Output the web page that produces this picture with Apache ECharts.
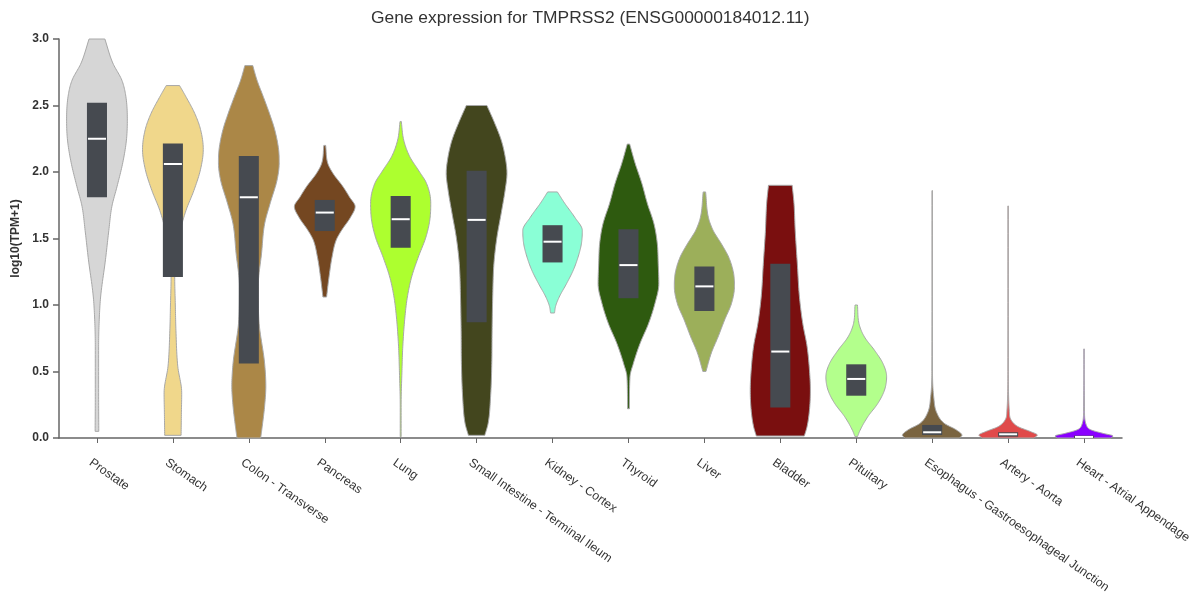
<!DOCTYPE html>
<html>
<head>
<meta charset="utf-8">
<script src="https://cdn.jsdelivr.net/npm/echarts@6/dist/echarts.min.js"></script>
<style>
  html, body { margin: 0; padding: 0; background: #ffffff; }
  #chart { width: 1194px; height: 592px; }
</style>
</head>
<body>
<div id="chart"></div>
<script>
// ---- Data ----
const titleText = 'Gene expression for TMPRSS2 (ENSG00000184012.11)';
const yAxisName = 'log10(TPM+1)';

const categories = [
  'Prostate', 'Stomach', 'Colon - Transverse', 'Pancreas', 'Lung',
  'Small Intestine - Terminal Ileum', 'Kidney - Cortex', 'Thyroid', 'Liver',
  'Bladder', 'Pituitary', 'Esophagus - Gastroesophageal Junction',
  'Artery - Aorta', 'Heart - Atrial Appendage'
];

// box plot statistics (log10(TPM+1))
const q1Values     = [1.81, 1.21, 0.56, 1.556, 1.43, 0.87, 1.32, 1.05, 0.955, 0.23, 0.318, 0.023, 0.010, 0.000];
const medianValues = [2.25, 2.06, 1.81, 1.695, 1.645, 1.64, 1.476, 1.30, 1.14, 0.65, 0.444, 0.043, 0.028, 0.008];
const q3Values     = [2.52, 2.215, 2.12, 1.79, 1.82, 2.01, 1.60, 1.57, 1.29, 1.31, 0.554, 0.098, 0.043, 0.018];

// violin density profiles: [value, density relative to the violin's maximum], top to bottom
const prostateDensity = [[3.0,0.26],[2.82,0.52],[2.69,0.82],[2.57,0.95],[2.39,1.0],[2.24,0.97],[2.07,0.85],[1.89,0.66],[1.74,0.49],[1.56,0.39],[1.34,0.28],[1.06,0.12],[0.86,0.07],[0.69,0.055],[0.31,0.055],[0.05,0.06]];
const stomachDensity = [[2.65,0.22],[2.57,0.42],[2.44,0.72],[2.32,0.91],[2.17,1.0],[2.02,0.91],[1.86,0.69],[1.71,0.43],[1.56,0.25],[1.31,0.12],[1.21,0.06],[1.0,0.08],[0.81,0.1],[0.54,0.16],[0.34,0.29],[0.19,0.28],[0.02,0.27]];
const colonDensity = [[2.80,0.13],[2.69,0.27],[2.57,0.47],[2.44,0.68],[2.32,0.85],[2.17,0.98],[2.07,1.0],[1.94,0.93],[1.77,0.71],[1.61,0.52],[1.39,0.42],[1.14,0.31],[0.89,0.33],[0.56,0.52],[0.39,0.56],[0.24,0.52],[0.085,0.44],[0.0,0.39]];
const pancreasDensity = [[2.2,0.03],[2.065,0.1],[1.99,0.27],[1.89,0.6],[1.81,0.82],[1.74,1.0],[1.66,0.85],[1.56,0.55],[1.49,0.38],[1.36,0.24],[1.21,0.14],[1.06,0.06]];
const lungDensity = [[2.38,0.02],[2.24,0.1],[2.115,0.3],[2.015,0.58],[1.915,0.85],[1.765,0.99],[1.64,0.96],[1.51,0.83],[1.36,0.58],[1.21,0.36],[1.06,0.22],[0.91,0.14],[0.69,0.07],[0.49,0.04],[0.25,0.015],[0.01,0.015]];
const smallIntestineDensity = [[2.5,0.34],[2.37,0.59],[2.24,0.81],[2.115,0.94],[1.99,1.0],[1.865,0.94],[1.69,0.81],[1.51,0.67],[1.31,0.57],[1.06,0.53],[0.81,0.51],[0.56,0.5],[0.31,0.46],[0.11,0.38],[0.02,0.27]];
const kidneyDensity = [[1.85,0.16],[1.765,0.4],[1.66,0.73],[1.56,0.98],[1.46,0.95],[1.36,0.84],[1.26,0.68],[1.16,0.46],[1.06,0.22],[0.99,0.1],[0.94,0.065]];
const thyroidDensity = [[2.21,0.04],[2.065,0.22],[1.915,0.44],[1.765,0.62],[1.61,0.84],[1.46,0.95],[1.31,0.98],[1.16,1.0],[1.01,0.87],[0.86,0.66],[0.71,0.38],[0.56,0.16],[0.46,0.05],[0.22,0.03]];
const liverDensity = [[1.85,0.04],[1.66,0.13],[1.56,0.29],[1.46,0.56],[1.36,0.8],[1.24,0.96],[1.14,0.99],[1.01,0.89],[0.89,0.67],[0.76,0.45],[0.64,0.23],[0.5,0.05]];
const bladderDensity = [[1.9,0.39],[1.765,0.45],[1.56,0.49],[1.31,0.56],[1.06,0.63],[0.86,0.74],[0.69,0.88],[0.51,0.96],[0.36,0.99],[0.21,0.96],[0.085,0.88],[0.015,0.79]];
const pituitaryDensity = [[1.0,0.04],[0.86,0.09],[0.76,0.27],[0.66,0.6],[0.56,0.88],[0.46,1.0],[0.36,0.93],[0.26,0.71],[0.16,0.38],[0.06,0.13],[0.01,0.04]];
const esophagusDensity = [[1.86,0.005],[0.5,0.01],[0.31,0.05],[0.19,0.15],[0.11,0.4],[0.06,0.8],[0.02,0.98],[0.0,0.89]];
const arteryDensity = [[1.745,0.005],[0.5,0.008],[0.2,0.04],[0.135,0.1],[0.085,0.33],[0.047,0.75],[0.022,0.96],[0.0,0.85]];
const heartDensity = [[0.67,0.005],[0.2,0.015],[0.085,0.1],[0.06,0.24],[0.035,0.62],[0.015,0.95],[0.0,0.88]];

const densities = [
  prostateDensity, stomachDensity, colonDensity, pancreasDensity, lungDensity,
  smallIntestineDensity, kidneyDensity, thyroidDensity, liverDensity,
  bladderDensity, pituitaryDensity, esophagusDensity, arteryDensity, heartDensity
];

const violinColors = [
  '#d6d6d6', '#f0d78b', '#ab8747', '#744721', '#adff2f',
  '#43461e', '#8affd6', '#2e5a0f', '#9caf5a',
  '#7a0f0f', '#b3ff8c', '#7a6440', '#e04a4a', '#8a00ff'
];

const yTicks = { min: 0, max: 3, interval: 0.5 };

// ---- Rendering helpers ----
function monotoneSample(xs, hs, steps) {
  const n = xs.length;
  if (n < 2) return xs.map((x, i) => [x, hs[i]]);
  const d = [];
  for (let k = 0; k < n - 1; k++) {
    const dx = xs[k + 1] - xs[k];
    d.push(dx === 0 ? 0 : (hs[k + 1] - hs[k]) / dx);
  }
  const m = new Array(n);
  m[0] = d[0]; m[n - 1] = d[n - 2];
  for (let k = 1; k < n - 1; k++) {
    m[k] = (d[k - 1] * d[k] <= 0) ? 0 : (d[k - 1] + d[k]) / 2;
  }
  for (let k = 0; k < n - 1; k++) {
    if (d[k] === 0) { m[k] = 0; m[k + 1] = 0; continue; }
    const a = m[k] / d[k], b = m[k + 1] / d[k];
    const s = a * a + b * b;
    if (s > 9) {
      const t = 3 / Math.sqrt(s);
      m[k] = t * a * d[k]; m[k + 1] = t * b * d[k];
    }
  }
  const out = [];
  for (let k = 0; k < n - 1; k++) {
    const x0 = xs[k], x1 = xs[k + 1], h0 = hs[k], h1 = hs[k + 1];
    const dx = x1 - x0;
    for (let s = 0; s < steps; s++) {
      const t = s / steps;
      const t2 = t * t, t3 = t2 * t;
      const h = (2 * t3 - 3 * t2 + 1) * h0 + (t3 - 2 * t2 + t) * dx * m[k] +
                (-2 * t3 + 3 * t2) * h1 + (t3 - t2) * dx * m[k + 1];
      out.push([x0 + t * dx, Math.max(h, 0.2)]);
    }
  }
  out.push([xs[n - 1], Math.max(hs[n - 1], 0.2)]);
  return out;
}

function renderViolin(params, api) {
  const i = api.value(0);
  const q1 = api.value(1), med = api.value(2), q3 = api.value(3);
  const center = api.coord([i, 0])[0];
  const band = api.size([1, 0])[0];
  const maxHalf = band * 0.40;
  const boxHalf = band * 0.132;
  const prof = densities[i];
  const ys = prof.map(p => api.coord([i, p[0]])[1]);
  const hs = prof.map(p => p[1] * maxHalf);
  const samples = monotoneSample(ys, hs, 12);
  const right = samples.map(s => [center + s[1], s[0]]);
  const left = samples.slice().reverse().map(s => [center - s[1], s[0]]);
  const yQ1 = api.coord([i, q1])[1];
  const yQ3 = api.coord([i, q3])[1];
  const yMed = api.coord([i, med])[1];
  return {
    type: 'group',
    children: [
      {
        type: 'polygon',
        shape: { points: right.concat(left) },
        style: { fill: violinColors[i], stroke: '#a8a8a8', lineWidth: 1 }
      },
      {
        type: 'rect',
        shape: { x: center - boxHalf, y: yQ3, width: boxHalf * 2, height: Math.max(yQ1 - yQ3, 1) },
        style: { fill: '#464a50' }
      },
      {
        type: 'line',
        shape: { x1: center - boxHalf + 1, y1: yMed, x2: center + boxHalf - 1, y2: yMed },
        style: { stroke: '#ffffff', lineWidth: 2 }
      }
    ]
  };
}

const seriesData = categories.map((c, i) => [i, q1Values[i], medianValues[i], q3Values[i]]);

const chart = echarts.init(document.getElementById('chart'), null, { renderer: 'canvas' });
chart.setOption({
  animation: false,
  backgroundColor: '#ffffff',
  title: {
    text: titleText,
    left: 371,
    top: 10,
    padding: 0,
    textStyle: { fontFamily: 'Liberation Sans, Arial, sans-serif', fontSize: 17.4, fontWeight: 'normal', color: '#333333' }
  },
  grid: { left: 59, right: 72, top: 39, bottom: 154, containLabel: false, outerBoundsMode: 'none' },
  xAxis: {
    type: 'category',
    data: categories,
    boundaryGap: true,
    offset: 3,
    axisLine: { show: true, lineStyle: { color: '#666666', width: 1.5 } },
    axisTick: { show: true, alignWithLabel: true, length: 5, lineStyle: { color: '#666666', width: 1 } },
    axisLabel: {
      interval: 0,
      rotate: -35,
      margin: 25,
      padding: [0, 0, 0, -8],
      fontFamily: 'Liberation Sans, Arial, sans-serif',
      fontSize: 12.3,
      color: '#333333'
    },
    splitLine: { show: false }
  },
  yAxis: {
    type: 'value',
    min: yTicks.min,
    max: yTicks.max,
    interval: yTicks.interval,
    name: yAxisName,
    nameLocation: 'middle',
    nameRotate: 90,
    nameGap: 33,
    nameTextStyle: { fontFamily: 'Liberation Sans, Arial, sans-serif', fontSize: 12, fontWeight: 'bold', color: '#333333' },
    axisLine: { show: true, lineStyle: { color: '#666666', width: 1.5 } },
    axisTick: { show: true, length: 6, lineStyle: { color: '#666666', width: 1.5 } },
    axisLabel: {
      formatter: v => v.toFixed(1),
      margin: 10,
      fontFamily: 'Liberation Sans, Arial, sans-serif',
      fontSize: 12,
      fontWeight: 'bold',
      color: '#333333'
    },
    splitLine: { show: false }
  },
  series: [{
    type: 'custom',
    renderItem: renderViolin,
    encode: { x: 0, y: [1, 2, 3] },
    data: seriesData,
    clip: false
  }]
});
</script>
</body>
</html>
